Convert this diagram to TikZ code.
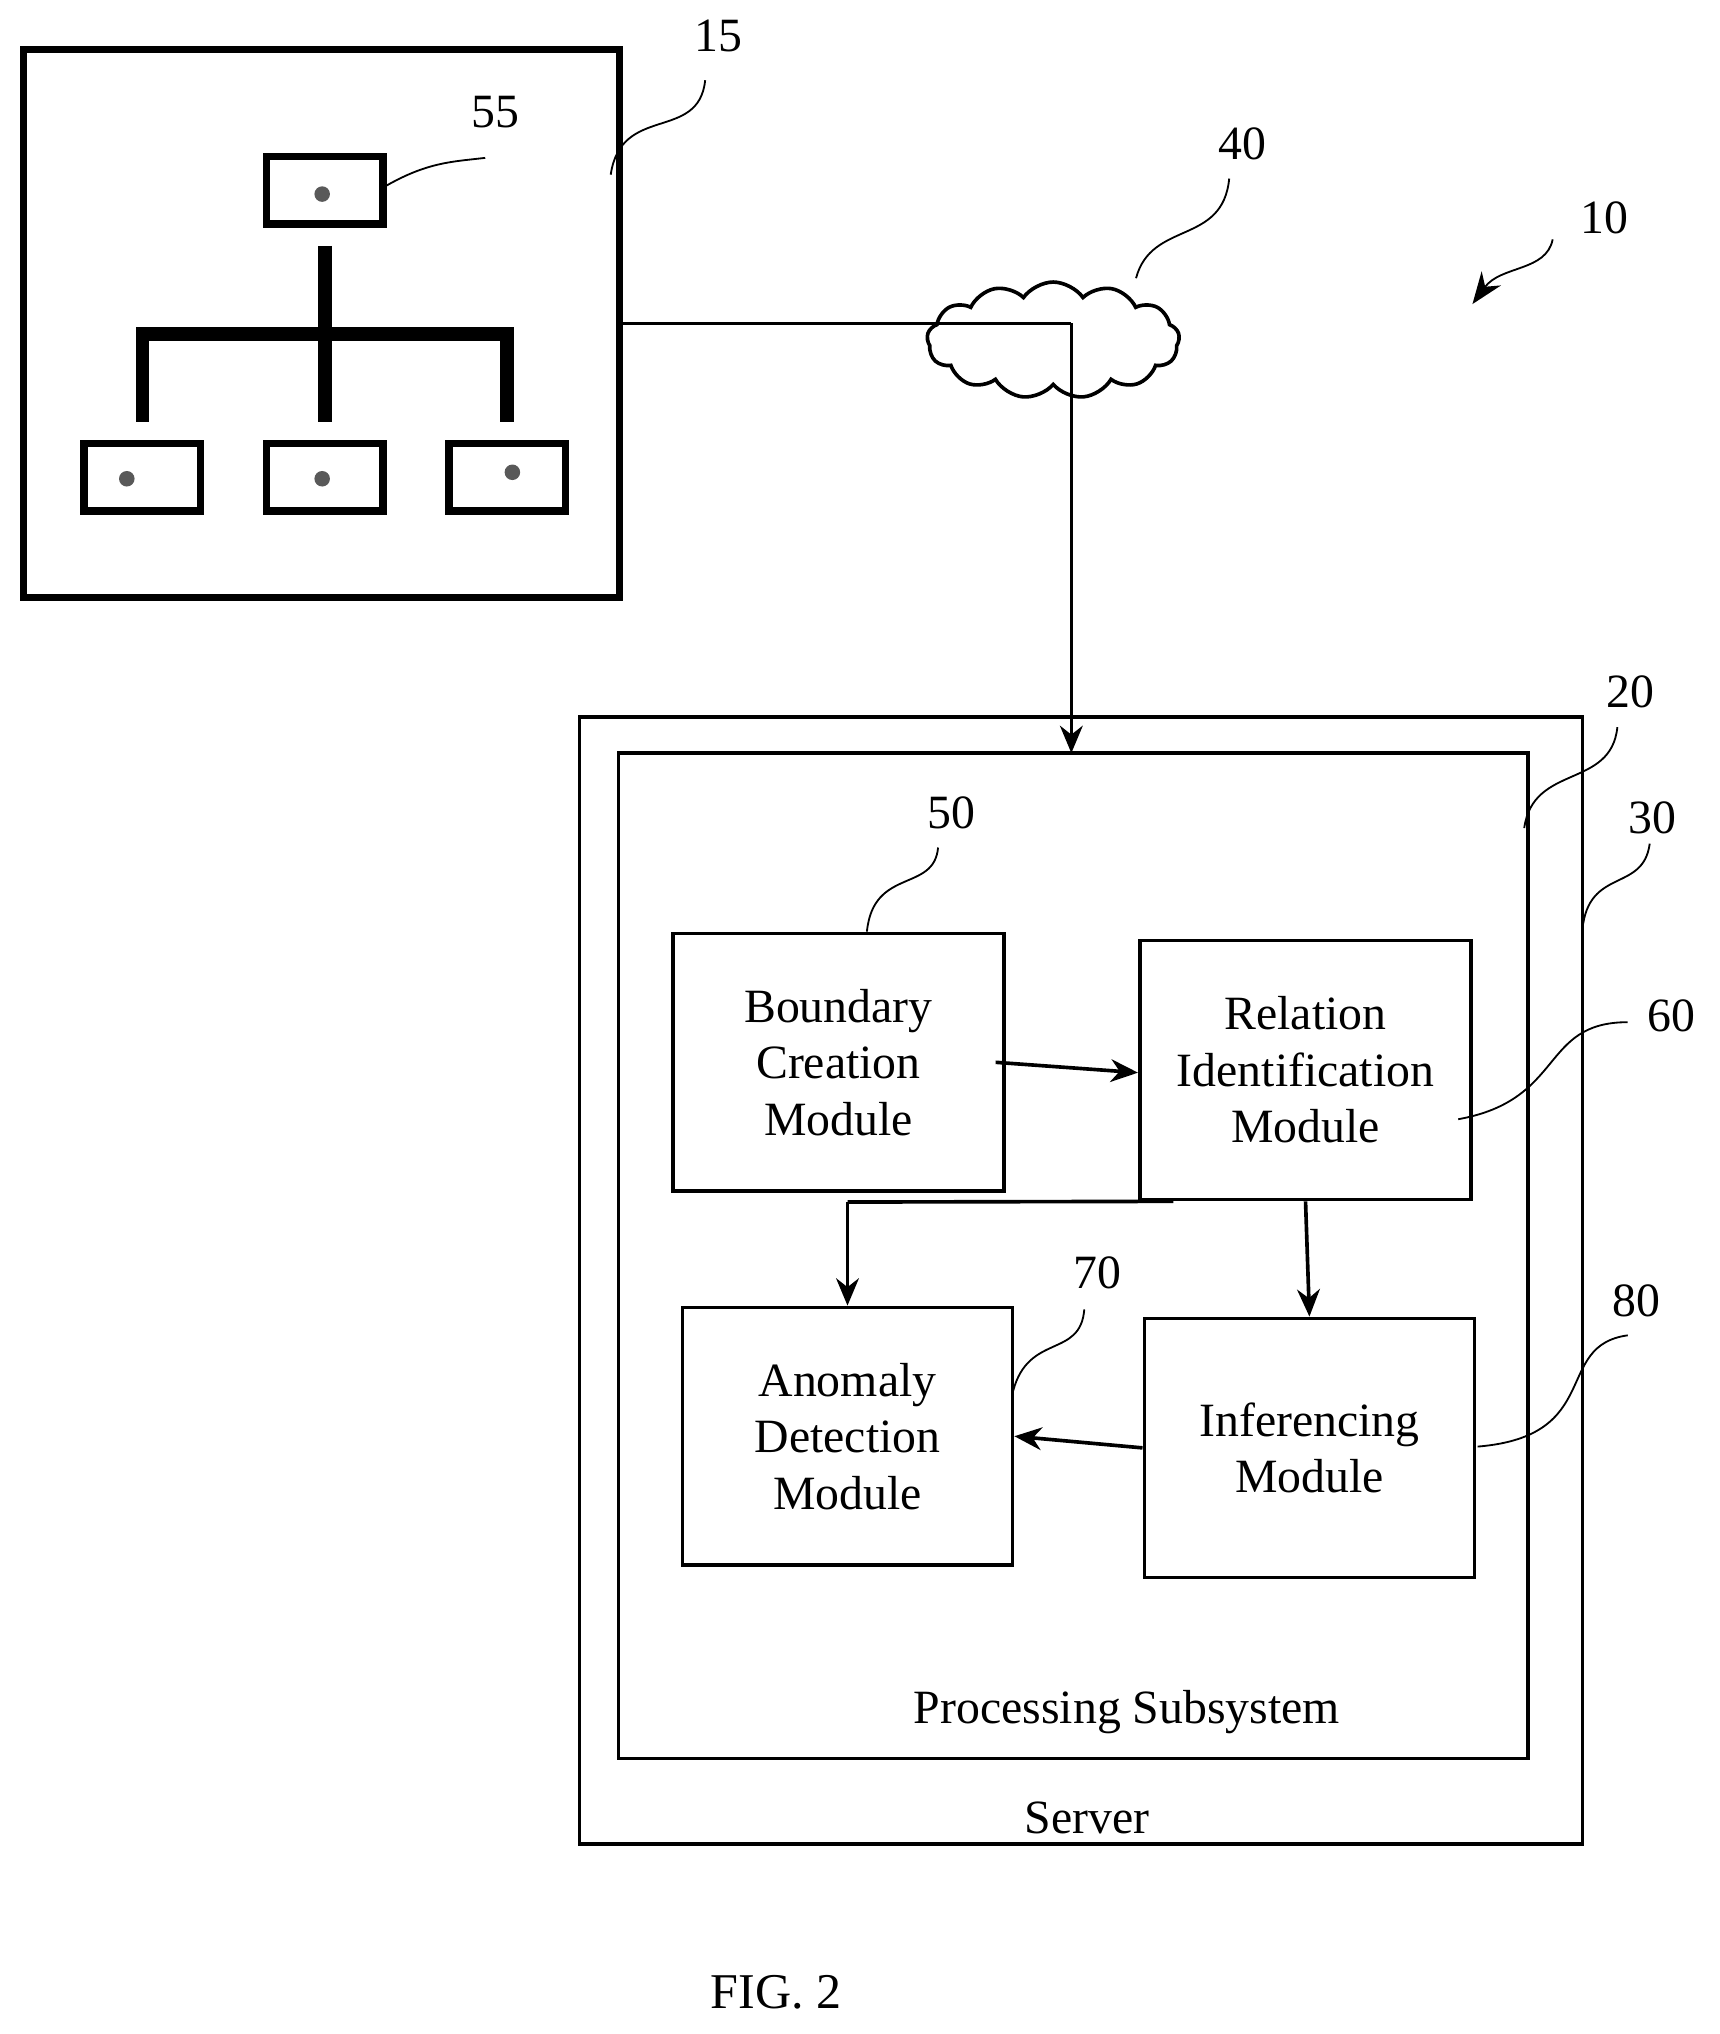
\documentclass[tikz,border=0pt]{standalone}
\usepackage{fontspec}
\setmainfont{Liberation Serif}
\usetikzlibrary{positioning, arrows.meta, shapes.symbols, calc}
\tikzset{
    module/.style={draw, thick, align=center, inner sep=0pt, font=\fontsize{10.5}{12.4}\selectfont},
    heavy/.style={draw, line width=1.6pt, fill=white},
    dev/.style={heavy, minimum width=0.9cm, minimum height=0.52cm},
    leader/.style={thin},
    tag/.style={font=\fontsize{10.5}{12}\selectfont},
    flow/.style={thick, -{Stealth[length=6pt, width=5pt]}},
}
\begin{document}
\begin{tikzpicture}[x=0.01cm, y=-0.01cm]
    \useasboundingbox (0,0) rectangle (1329,1572);

    % site with devices
    \draw[line width=1.6pt] (18,38) rectangle (479,462);
    \node[dev, minimum width=0.9cm] (d0) at (251,147) {};
    \node[dev] (d1) at (110,369) {};
    \node[dev] (d2) at (251,369) {};
    \node[dev] (d3) at (392,369) {};
    \foreach \p in {(249,150),(98,370),(249,370),(396,365)}
        \fill[gray!70!black] \p circle (6);
    \coordinate (t0) at (251,190);
    \coordinate (tm) at (251,258);
    \draw[line width=3pt] (t0) -- (tm);
    \draw[line width=3pt] (110,326) -- (110,258) -- (392,258) -- (392,326);
    \draw[line width=3pt] (tm) -- (251,326);

    % network
    \coordinate (s0) at (479,250);
    \coordinate (s1) at (828,250);
    \coordinate (s2) at (828,582);
    \node[cloud, draw, thick, fill=white, cloud puffs=13, cloud puff arc=110,
          minimum width=1.95cm, minimum height=0.9cm] (net) at (814,263) {};
    \draw[thick] (s0) -- (s1);
    \draw[flow] (s1) -- (s2);

    % server
    \draw[thick] (448,554) rectangle (1223,1425);
    \draw[thick] (478,582) rectangle (1181,1359);
    \node[tag] (ps) at (871,1323) {Processing Subsystem};
    \node[tag] (srv) at (840,1405) {Server};

    \node[module, minimum width=2.56cm, minimum height=1.99cm] (bcm) at (648,821) {Boundary\\Creation\\Module};
    \node[module, minimum width=2.56cm, minimum height=2.0cm] (rim) at (1009,827) {Relation\\Identification\\Module};
    \node[module, minimum width=2.55cm, minimum height=1.99cm] (adm) at (655,1110) {Anomaly\\Detection\\Module};
    \node[module, minimum width=2.55cm, minimum height=2.0cm] (inf) at (1012,1119) {Inferencing\\Module};

    \draw[flow] ([xshift=-0.08cm]bcm.east) -- ([yshift=-0.02cm]rim.west);
    \draw[thick] ([xshift=-1.02cm]rim.south) -- (655,929);
    \draw[flow] (655,929) -- (adm.north);
    \draw[flow] (rim.south) -- (inf.north);
    \draw[flow] (inf.west) -- (adm.east);

    % reference numerals
    \node[tag] (n15) at (555,28) {15};
    \node[tag] (n55) at (383,87) {55};
    \node[tag] (n40) at (960,111) {40};
    \node[tag] (n10) at (1240,168) {10};
    \node[tag] (n20) at (1260,535) {20};
    \node[tag] (n30) at (1277,632) {30};
    \node[tag] (n50) at (735,628) {50};
    \node[tag] (n60) at (1292,785) {60};
    \node[tag] (n70) at (848,984) {70};
    \node[tag] (n80) at (1265,1005) {80};

    \draw[leader] (472,135) .. controls (480,80) and (540,110) .. (545,62);
    \draw[leader] (296,145) .. controls (330,125) and (350,125) .. (375,122);
    \draw[leader] (878,215) .. controls (890,170) and (945,190) .. (950,138);
    \draw[leader, -{Stealth[length=7pt]}] (1200,185) .. controls (1195,210) and (1160,205) .. (1138,235);
    \draw[leader] (1178,640) .. controls (1185,590) and (1245,610) .. (1250,562);
    \draw[leader] (1223,718) .. controls (1228,670) and (1270,690) .. (1275,652);
    \draw[leader] (670,720) .. controls (675,670) and (722,690) .. (725,655);
    \draw[leader] (1127,865) .. controls (1210,850) and (1190,790) .. (1258,790);
    \draw[leader] (783,1075) .. controls (795,1030) and (835,1050) .. (838,1012);
    \draw[leader] (1142,1118) .. controls (1240,1110) and (1200,1040) .. (1258,1032);

    \node[font=\fontsize{11}{13}\selectfont] (fig) at (600,1540) {FIG. 2};
\end{tikzpicture}
\end{document}
